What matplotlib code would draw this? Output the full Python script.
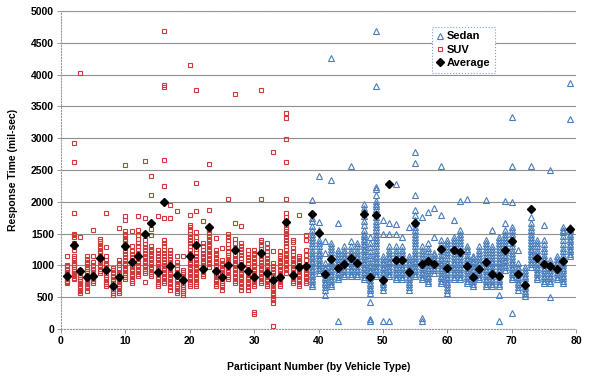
import matplotlib
matplotlib.use("Agg")
import matplotlib.pyplot as plt
from matplotlib.lines import Line2D

plt.rcParams['font.family'] = ['Liberation Sans', 'DejaVu Sans']
plt.rcParams['font.weight'] = 'bold'

# Response times per participant (mil-sec), SUV drivers 1-38
suv_times = [
    [720, 745, 760, 790, 810, 830, 850, 870, 895, 920, 950, 985, 1010, 1140],
    [780, 800, 830, 860, 880, 910, 940, 970, 1000, 1040, 1080, 1110, 1150, 1250, 1290, 1350, 1450, 1480, 1500, 1820, 2620, 2920],
    [570, 600, 620, 650, 680, 700, 730, 760, 790, 820, 850, 880, 910, 935, 1450, 4030],
    [600, 640, 670, 700, 730, 760, 790, 820, 850, 880, 910, 940, 980, 1020, 1060, 1100, 1140],
    [720, 750, 780, 800, 830, 860, 890, 920, 950, 1000, 1060, 1140, 1550],
    [880, 910, 950, 990, 1030, 1070, 1110, 1150, 1190, 1230, 1270, 1310, 1350, 1380, 1420],
    [670, 700, 740, 780, 820, 850, 880, 920, 960, 1000, 1040, 1080, 1140, 1290, 1820],
    [540, 570, 600, 630, 660, 690, 720, 750, 780, 810, 840, 880, 920, 960],
    [570, 600, 640, 680, 710, 750, 790, 820, 860, 900, 950, 1000, 1040, 1090, 1590],
    [780, 810, 850, 880, 920, 960, 1000, 1040, 1080, 1130, 1180, 1230, 1280, 1330, 1380, 1420, 1460, 1500, 1540, 1720, 1770, 2580],
    [720, 750, 790, 830, 870, 910, 950, 990, 1030, 1080, 1130, 1180, 1230, 1300, 1540],
    [830, 870, 910, 950, 990, 1030, 1070, 1110, 1150, 1200, 1250, 1300, 1360, 1420, 1480, 1560, 1770],
    [740, 880, 910, 950, 990, 1030, 1070, 1110, 1150, 1200, 1240, 1290, 1340, 1400, 1740, 2640],
    [830, 870, 900, 940, 980, 1020, 1060, 1100, 1140, 1180, 1220, 1260, 1300, 1480, 1580, 2100, 2400],
    [670, 700, 740, 780, 820, 860, 900, 940, 980, 1020, 1060, 1100, 1150, 1200, 1240, 1770],
    [720, 760, 800, 840, 880, 920, 960, 1000, 1050, 1100, 1150, 1200, 1250, 1300, 1350, 1400, 1740, 2000, 2250, 2660, 3800, 3830, 4680],
    [620, 660, 700, 740, 780, 820, 860, 900, 940, 980, 1020, 1060, 1100, 1140, 1190, 1240, 1750, 1950],
    [570, 600, 640, 680, 710, 750, 790, 830, 860, 900, 950, 1000, 1060, 1140, 1860],
    [540, 570, 600, 630, 660, 690, 720, 760, 790, 820, 860, 900, 930, 1140],
    [670, 700, 740, 780, 820, 860, 900, 940, 980, 1020, 1060, 1100, 1150, 1200, 1250, 1300, 1350, 1400, 1450, 1500, 1560, 1600, 1630, 1800, 4150],
    [670, 700, 740, 780, 820, 860, 900, 940, 980, 1020, 1060, 1100, 1150, 1200, 1260, 1320, 1380, 1450, 1520, 1860, 2300, 3760],
    [830, 870, 910, 950, 990, 1030, 1070, 1110, 1150, 1200, 1250, 1300, 1350, 1700],
    [980, 1020, 1060, 1100, 1140, 1180, 1220, 1260, 1300, 1340, 1380, 1420, 1460, 1510, 1560, 1610, 1870, 2600],
    [670, 710, 750, 790, 830, 870, 910, 950, 990, 1030, 1070, 1110, 1160, 1200, 1240, 1430],
    [620, 660, 690, 720, 750, 780, 810, 840, 880, 920, 960, 1000, 1040, 1090, 1270],
    [780, 810, 850, 890, 930, 970, 1010, 1050, 1090, 1130, 1170, 1220, 1280, 1340, 1400, 1450, 1500, 2040],
    [720, 760, 800, 840, 880, 920, 960, 1000, 1040, 1080, 1120, 1170, 1220, 1280, 1350, 1410, 1660, 3700],
    [620, 660, 700, 740, 780, 820, 860, 900, 940, 980, 1020, 1060, 1110, 1160, 1210, 1260, 1300, 1350, 1620],
    [620, 660, 700, 740, 780, 820, 860, 900, 940, 980, 1030, 1080, 1130, 1180, 1240],
    [230, 260, 670, 710, 750, 790, 830, 870, 910, 950, 990, 1030, 1070, 1110, 1160, 1200, 1240],
    [720, 760, 800, 840, 880, 920, 960, 1000, 1050, 1100, 1150, 1200, 1260, 1320, 1370, 1400, 2050, 3760],
    [670, 710, 750, 790, 830, 870, 910, 950, 990, 1030, 1070, 1110, 1160, 1220, 1280, 1350],
    [50, 410, 450, 490, 530, 570, 610, 650, 690, 730, 770, 810, 850, 890, 940, 990, 1040, 1230, 2780],
    [670, 710, 750, 790, 830, 870, 910, 950, 990, 1030, 1070, 1110, 1140, 1220],
    [880, 920, 960, 1000, 1040, 1080, 1120, 1160, 1200, 1250, 1300, 1350, 1400, 1450, 1500, 1540, 1580, 1640, 1700, 1760, 1820, 2040, 2620, 2980, 3320, 3400],
    [720, 760, 800, 840, 880, 920, 960, 1000, 1040, 1080, 1120, 1170, 1220, 1270, 1370, 1400],
    [670, 710, 750, 790, 830, 870, 910, 950, 990, 1030, 1070, 1110, 1140, 1800],
    [720, 760, 800, 840, 880, 920, 960, 990, 1090, 1170, 1240, 1400, 1480],
]

# Sedan drivers 39-79
sedan_times = [
    [670, 710, 750, 790, 830, 870, 910, 950, 990, 1030, 1070, 1110, 1150, 1200, 1250, 1300, 1350, 1400, 1450, 1500, 1560, 1620, 1700, 1740, 2030],
    [880, 920, 960, 1000, 1040, 1080, 1120, 1160, 1200, 1250, 1300, 1350, 1400, 1560, 1680, 2410],
    [540, 620, 660, 700, 740, 780, 820, 860, 900, 940, 980, 1040, 1200, 1380],
    [670, 710, 750, 790, 830, 870, 910, 950, 990, 1030, 1070, 1110, 1160, 1210, 1260, 1300, 1350, 2350, 4260],
    [120, 780, 820, 860, 900, 940, 980, 1020, 1060, 1100, 1140, 1190, 1240, 1660],
    [830, 870, 910, 950, 990, 1030, 1070, 1110, 1150, 1200, 1250, 1300],
    [830, 870, 910, 950, 990, 1030, 1070, 1110, 1150, 1200, 1250, 1300, 1380, 2570],
    [830, 870, 910, 950, 990, 1030, 1070, 1110, 1150, 1200, 1250, 1300, 1350],
    [780, 820, 860, 900, 940, 980, 1020, 1060, 1100, 1140, 1180, 1220, 1260, 1300, 1340, 1380, 1420, 1460, 1500, 1560, 1640, 1700, 1780, 1850, 1900, 1970],
    [120, 150, 430, 570, 610, 650, 690, 730, 770, 810, 850, 890, 930, 970, 1010, 1060, 1110, 1160, 1220, 1290, 1360, 1450],
    [830, 870, 910, 950, 990, 1030, 1070, 1110, 1150, 1200, 1250, 1300, 1350, 1400, 1450, 1500, 1550, 1600, 1650, 1700, 1760, 1820, 1880, 1940, 1970, 2020, 2100, 2200, 2230, 3820, 4680],
    [130, 620, 660, 700, 740, 780, 820, 860, 900, 940, 980, 1020, 1060, 1100, 1140, 1500, 1710],
    [130, 830, 870, 910, 950, 990, 1030, 1070, 1110, 1150, 1200, 1250, 1300, 1500, 1670],
    [780, 820, 860, 900, 940, 980, 1020, 1060, 1100, 1140, 1190, 1240, 1300, 1500, 1650, 2280],
    [780, 820, 860, 900, 940, 980, 1020, 1060, 1100, 1140, 1190, 1240, 1300, 1440],
    [620, 660, 700, 740, 780, 820, 860, 900, 940, 980, 1020, 1060, 1100, 1140, 1600],
    [830, 870, 910, 950, 990, 1030, 1070, 1110, 1150, 1200, 1250, 1300, 1350, 1400, 1450, 1500, 1550, 1600, 1660, 1720, 1790, 1870, 2100, 2610, 2780],
    [130, 180, 780, 820, 860, 900, 940, 980, 1020, 1060, 1100, 1140, 1190, 1240, 1300, 1760],
    [720, 760, 800, 840, 880, 920, 960, 1000, 1040, 1080, 1120, 1170, 1220, 1280, 1350, 1840],
    [880, 920, 960, 1000, 1040, 1080, 1120, 1160, 1190, 1440, 1900],
    [720, 760, 800, 840, 880, 920, 960, 1000, 1040, 1080, 1120, 1170, 1220, 1280, 1340, 1400, 1800, 2570],
    [560, 620, 660, 700, 740, 780, 820, 860, 900, 940, 980, 1020, 1060, 1110, 1160, 1210, 1260, 1310, 1360, 1400],
    [780, 820, 860, 900, 940, 980, 1020, 1060, 1100, 1150, 1200, 1250, 1300, 1350, 1400, 1450, 1720],
    [780, 820, 860, 900, 940, 980, 1020, 1060, 1100, 1150, 1200, 1250, 1300, 1350, 1400, 1450, 1500, 1560, 2020],
    [720, 760, 800, 840, 880, 920, 960, 1000, 1040, 1080, 1120, 1170, 1220, 1260, 1300, 2040],
    [670, 710, 750, 790, 830, 870, 910, 950, 990, 1030, 1070, 1110, 1140],
    [780, 820, 860, 900, 940, 980, 1020, 1060, 1100, 1140, 1190, 1240, 1300],
    [670, 710, 750, 790, 830, 870, 910, 950, 990, 1030, 1070, 1110, 1160, 1210, 1260, 1310, 1360, 1400, 2030],
    [670, 710, 750, 790, 830, 870, 910, 950, 990, 1030, 1070, 1110, 1160, 1210, 1260, 1300, 1560],
    [130, 540, 670, 710, 750, 790, 830, 870, 910, 950, 990, 1030, 1070, 1110, 1160, 1210, 1260, 1310, 1360, 1400, 1450],
    [930, 970, 1010, 1050, 1090, 1130, 1170, 1210, 1250, 1300, 1350, 1400, 1450, 1500, 1560, 1660, 2010],
    [250, 780, 820, 860, 900, 940, 980, 1020, 1060, 1100, 1150, 1200, 1250, 1300, 1350, 1400, 1450, 1500, 1560, 1610, 1990, 2570, 3330],
    [620, 660, 700, 740, 780, 820, 860, 900, 940, 980, 1040, 1240],
    [520, 560, 600, 640, 680, 720, 760, 800, 840, 880, 930, 980],
    [980, 1020, 1060, 1100, 1140, 1180, 1220, 1260, 1300, 1350, 1400, 1450, 1500, 1560, 1610, 1660, 1760, 2560],
    [780, 820, 860, 900, 940, 980, 1020, 1060, 1100, 1150, 1200, 1250, 1300, 1350, 1400],
    [720, 760, 800, 840, 880, 920, 960, 1000, 1040, 1080, 1120, 1170, 1220, 1280, 1340, 1400, 1640],
    [510, 720, 760, 800, 840, 880, 920, 960, 1000, 1040, 1090, 2500],
    [780, 820, 860, 900, 940, 980, 1020, 1060, 1100, 1140],
    [720, 760, 800, 840, 880, 920, 960, 1000, 1040, 1080, 1120, 1170, 1220, 1280, 1340, 1400, 1460, 1520, 1560, 1610],
    [1140, 1180, 1220, 1260, 1300, 1340, 1380, 1420, 1460, 1500, 1540, 1580, 1610, 3300, 3870],
]

# Average response time per participant 1-79
averages = [840, 1320, 915, 820, 840, 1110, 930, 680, 820, 1300, 1060, 1150, 1490, 1670, 900,
            1990, 985, 845, 765, 1145, 1320, 945, 1600, 910, 810, 1005, 1240, 990, 910, 820,
            1190, 875, 765, 815, 1675, 850, 970, 985,
            1815, 1515, 870, 1100, 960, 1025, 1120, 1030, 1815, 820, 1795, 775, 2285, 1090,
            1080, 890, 1660, 1025, 1070, 1015, 1260, 965, 1250, 1210, 985, 825, 945, 1050,
            865, 830, 1235, 1385, 870, 690, 1890, 1120, 1025, 985, 950, 1070, 1570]

suv_x, suv_y = [], []
for i, vals in enumerate(suv_times):
    suv_x += [i + 1] * len(vals)
    suv_y += vals

sedan_x, sedan_y = [], []
for i, vals in enumerate(sedan_times):
    sedan_x += [len(suv_times) + i + 1] * len(vals)
    sedan_y += vals

avg_x = list(range(1, len(averages) + 1))

fig = plt.figure(figsize=(5.92, 3.80), dpi=100)
ax = fig.add_axes([61 / 592, 51 / 380, 515 / 592, 318 / 380])

sedan_col = '#4a7ebb'
suv_col = '#d03a3a'

# hollow markers so the stacked trials build up dense columns
ax.plot(sedan_x, sedan_y, linestyle='none', marker='^', markersize=4.4,
        markerfacecolor='none', markeredgecolor=sedan_col, markeredgewidth=0.8, zorder=3)
ax.plot(suv_x, suv_y, linestyle='none', marker='s', markersize=3.4,
        markerfacecolor='none', markeredgecolor=suv_col, markeredgewidth=0.8, zorder=3)
ax.plot(avg_x, averages, linestyle='none', marker='D', markersize=4.0,
        markerfacecolor='black', markeredgecolor='black', zorder=4)

ax.set_xlim(0, 80)
ax.set_ylim(0, 5000)
ax.set_xticks(range(0, 81, 10))
ax.set_yticks(range(0, 5001, 500))
ax.tick_params(labelsize=7.5, length=3, width=0.6, color='#888888', pad=2)
for lab in ax.get_xticklabels() + ax.get_yticklabels():
    lab.set_fontweight('bold')

ax.grid(axis='y', color='#8f8f8f', linewidth=0.8)
ax.set_axisbelow(True)
for side in ['left', 'bottom', 'top']:
    ax.spines[side].set_color('#999999')
    ax.spines[side].set_linestyle(':')
    ax.spines[side].set_linewidth(0.8)
ax.spines['right'].set_visible(False)

ax.set_xlabel('Participant Number (by Vehicle Type)', fontsize=7.5, fontweight='bold')
ax.set_ylabel('Response Time (mil-sec)', fontsize=7.5, fontweight='bold')
ax.xaxis.set_label_coords(0.5, -0.105)
ax.yaxis.set_label_coords(-0.083, 0.5)

handles = [
    Line2D([], [], linestyle='none', marker='^', markersize=4.4, markerfacecolor='white',
           markeredgecolor=sedan_col, markeredgewidth=0.8),
    Line2D([], [], linestyle='none', marker='s', markersize=3.0, markerfacecolor='white',
           markeredgecolor=suv_col, markeredgewidth=0.8),
    Line2D([], [], linestyle='none', marker='D', markersize=4.0, color='black'),
]
leg = ax.legend(handles, ['Sedan', 'SUV', 'Average'], loc='upper left',
                bbox_to_anchor=(371 / 515, 1 - 16 / 318),
                prop={'weight': 'bold', 'size': 8}, fancybox=False, framealpha=1,
                handlelength=0.6, handletextpad=0.3, labelspacing=0.3,
                borderpad=0.4, borderaxespad=0)
leg.get_frame().set_edgecolor('#7f9fcf')
leg.get_frame().set_linestyle(':')
leg.get_frame().set_linewidth(0.8)

fig.savefig('out.png', dpi=100)
